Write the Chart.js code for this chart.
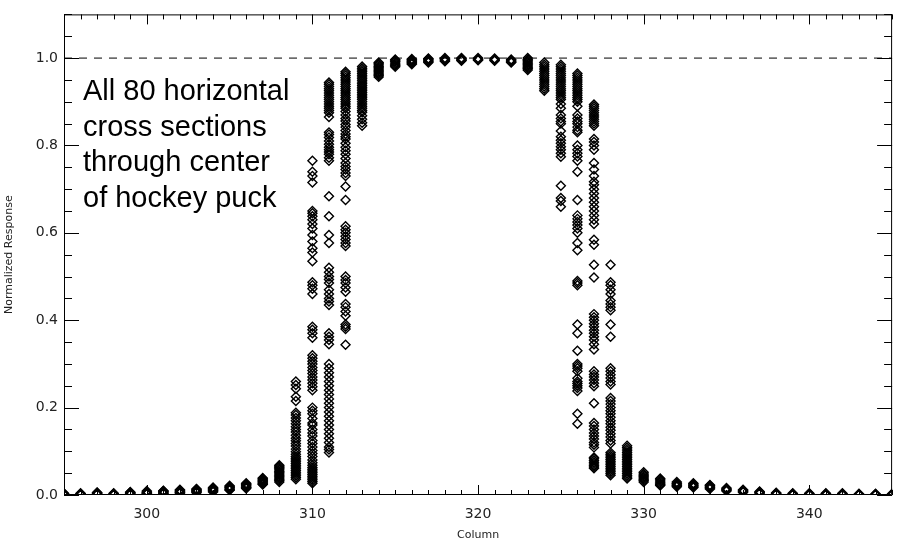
<!DOCTYPE html>
<html>
<head>
<meta charset="utf-8">
<script src="https://cdn.jsdelivr.net/npm/chart.js@4.4.1/dist/chart.umd.min.js"></script>
<style>
  body { margin: 0; background: #fff; }
  #wrap { position: relative; width: 898px; height: 545px; }
  #note {
    position: absolute; left: 83px; top: 73px;
    font-family: "Liberation Sans", Arial, sans-serif; font-size: 29px; line-height: 35.7px;
    color: #000; white-space: nowrap;
  }
</style>
</head>
<body>
<div id="wrap">
  <canvas id="chart" width="898" height="545"></canvas>
  <div id="note">All 80 horizontal<br>cross sections<br>through center<br>of hockey puck</div>
</div>
<script>
// Axis setup
const xRange = [295, 345];
const yRange = [0, 1.1];
const xTicks = [300, 310, 320, 330, 340];
const yTicks = [0, 0.2, 0.4, 0.6, 0.8, 1.0];
const refLine = [1.0];

// Normalized response, one list per column
const tailLeftCols = [295, 296, 297, 298, 299, 300, 301, 302, 303, 304, 305, 306, 307, 308];
const tailLeft = [
  [0.000, 0.001, 0.002, 0.003, 0.004],
  [0.000, 0.001, 0.002, 0.003, 0.004],
  [0.001, 0.002, 0.003, 0.004, 0.005, 0.006],
  [0.000, 0.001, 0.002, 0.003, 0.004],
  [0.001, 0.002, 0.003, 0.004, 0.005, 0.006, 0.007],
  [0.002, 0.003, 0.004, 0.006, 0.007, 0.009],
  [0.003, 0.004, 0.005, 0.007, 0.008, 0.009, 0.010],
  [0.004, 0.005, 0.006, 0.008, 0.009, 0.011, 0.012],
  [0.005, 0.007, 0.008, 0.010, 0.011, 0.013, 0.014],
  [0.007, 0.009, 0.010, 0.012, 0.014, 0.015, 0.017],
  [0.011, 0.012, 0.014, 0.016, 0.018, 0.019, 0.021],
  [0.015, 0.017, 0.018, 0.020, 0.022, 0.024, 0.025, 0.027],
  [0.024, 0.025, 0.027, 0.029, 0.031, 0.033, 0.035, 0.037, 0.039],
  [0.030, 0.033, 0.036, 0.039, 0.042, 0.045, 0.048, 0.051, 0.054, 0.057, 0.060, 0.063, 0.066, 0.068]
];

const edgeLeftCols = [309, 310, 311, 312, 313];
const edgeLeft = [
  [0.26, 0.252, 0.243, 0.225, 0.215, 0.188, 0.183, 0.176, 0.17, 0.163, 0.156, 0.15, 0.144, 0.137,
   0.13, 0.124, 0.118, 0.112, 0.105, 0.099, 0.093, 0.088, 0.084, 0.08, 0.076, 0.072, 0.068, 0.064,
   0.06, 0.056, 0.052, 0.048, 0.044, 0.04, 0.036],
  [0.765, 0.74, 0.73, 0.715, 0.65, 0.645, 0.638, 0.63, 0.62, 0.61, 0.595, 0.58, 0.565, 0.555,
   0.535, 0.487, 0.48, 0.472, 0.46, 0.385, 0.378, 0.37, 0.36, 0.32, 0.313, 0.306, 0.30, 0.292,
   0.285, 0.278, 0.27, 0.263, 0.256, 0.248, 0.24, 0.2, 0.193, 0.186, 0.175, 0.165, 0.16, 0.15,
   0.142, 0.135, 0.125, 0.118, 0.11, 0.102, 0.095, 0.088, 0.08, 0.074, 0.068, 0.063, 0.059,
   0.055, 0.051, 0.047, 0.043, 0.039, 0.035, 0.031, 0.027],
  [0.944, 0.94, 0.935, 0.93, 0.925, 0.92, 0.915, 0.91, 0.905, 0.9, 0.895, 0.89, 0.885, 0.88,
   0.875, 0.865, 0.83, 0.825, 0.818, 0.81, 0.803, 0.796, 0.79, 0.785, 0.78, 0.772, 0.765, 0.684,
   0.638, 0.595, 0.577, 0.52, 0.51, 0.50, 0.493, 0.485, 0.47, 0.46, 0.45, 0.443, 0.435, 0.37,
   0.362, 0.355, 0.345, 0.30, 0.29, 0.28, 0.27, 0.26, 0.25, 0.24, 0.23, 0.22, 0.21, 0.2, 0.19,
   0.18, 0.17, 0.16, 0.15, 0.14, 0.13, 0.12, 0.11, 0.104, 0.097],
  [0.969, 0.965, 0.96, 0.955, 0.95, 0.945, 0.94, 0.935, 0.93, 0.925, 0.92, 0.915, 0.91, 0.905,
   0.90, 0.895, 0.89, 0.885, 0.878, 0.87, 0.862, 0.856, 0.848, 0.842, 0.834, 0.826, 0.82, 0.815,
   0.805, 0.796, 0.788, 0.78, 0.77, 0.76, 0.752, 0.745, 0.737, 0.73, 0.706, 0.675, 0.615, 0.607,
   0.60, 0.592, 0.585, 0.577, 0.57, 0.50, 0.492, 0.485, 0.475, 0.465, 0.437, 0.43, 0.42, 0.41,
   0.39, 0.385, 0.38, 0.344],
  [0.981, 0.977, 0.973, 0.969, 0.965, 0.961, 0.957, 0.953, 0.949, 0.945, 0.941, 0.937, 0.933,
   0.929, 0.925, 0.921, 0.917, 0.913, 0.909, 0.905, 0.90, 0.895, 0.89, 0.885, 0.88, 0.876, 0.868,
   0.86, 0.852, 0.845]
];

const plateauCols = [314, 315, 316, 317, 318, 319, 320, 321, 322, 323];
const plateau = [
  [0.957, 0.96, 0.963, 0.966, 0.969, 0.972, 0.975, 0.978, 0.981, 0.984, 0.987, 0.99],
  [0.98, 0.983, 0.986, 0.989, 0.992, 0.995, 0.997],
  [0.986, 0.988, 0.99, 0.992, 0.994, 0.996, 0.998],
  [0.99, 0.992, 0.994, 0.996, 0.998, 0.999],
  [0.993, 0.994, 0.996, 0.998, 1.0],
  [0.994, 0.995, 0.997, 0.999, 1.0],
  [0.995, 0.996, 0.998, 1.0],
  [0.994, 0.995, 0.997, 0.999],
  [0.99, 0.991, 0.993, 0.995, 0.997],
  [0.973, 0.976, 0.979, 0.982, 0.985, 0.988, 0.991, 0.994, 0.997, 1.0]
];

const edgeRightCols = [324, 325, 326, 327, 328, 329];
const edgeRight = [
  [0.925, 0.93, 0.935, 0.94, 0.945, 0.95, 0.955, 0.96, 0.965, 0.97, 0.975, 0.98, 0.985, 0.99],
  [0.985, 0.98, 0.975, 0.97, 0.965, 0.96, 0.955, 0.95, 0.945, 0.94, 0.935, 0.93, 0.925, 0.92,
   0.915, 0.91, 0.905, 0.895, 0.885, 0.87, 0.862, 0.855, 0.85, 0.833, 0.82, 0.812, 0.805, 0.797,
   0.79, 0.782, 0.774, 0.708, 0.68, 0.673, 0.66],
  [0.965, 0.96, 0.955, 0.95, 0.945, 0.94, 0.935, 0.93, 0.925, 0.92, 0.915, 0.91, 0.905, 0.90,
   0.89, 0.87, 0.862, 0.855, 0.85, 0.842, 0.835, 0.83, 0.80, 0.79, 0.782, 0.775, 0.765, 0.74,
   0.675, 0.64, 0.632, 0.625, 0.618, 0.61, 0.60, 0.577, 0.56, 0.49, 0.485, 0.48, 0.39, 0.37,
   0.33, 0.30, 0.295, 0.29, 0.283, 0.267, 0.26, 0.255, 0.25, 0.245, 0.238, 0.186, 0.163],
  [0.894, 0.89, 0.885, 0.88, 0.875, 0.87, 0.865, 0.86, 0.855, 0.85, 0.845, 0.815, 0.808, 0.80,
   0.79, 0.76, 0.745, 0.73, 0.717, 0.71, 0.70, 0.69, 0.68, 0.67, 0.66, 0.65, 0.64, 0.63, 0.62,
   0.584, 0.573, 0.527, 0.498, 0.414, 0.407, 0.40, 0.392, 0.385, 0.377, 0.37, 0.362, 0.355,
   0.345, 0.333, 0.283, 0.276, 0.27, 0.263, 0.256, 0.249, 0.21, 0.165, 0.158, 0.15, 0.142,
   0.135, 0.128, 0.12, 0.115, 0.109, 0.086, 0.083, 0.079, 0.075, 0.071, 0.067, 0.064, 0.061],
  [0.527, 0.487, 0.48, 0.47, 0.46, 0.445, 0.437, 0.43, 0.423, 0.39, 0.362, 0.29, 0.283, 0.275,
   0.268, 0.26, 0.253, 0.222, 0.215, 0.208, 0.2, 0.193, 0.186, 0.178, 0.17, 0.163, 0.155, 0.148,
   0.14, 0.133, 0.125, 0.118, 0.097, 0.093, 0.089, 0.085, 0.081, 0.077, 0.073, 0.069, 0.065,
   0.061, 0.057, 0.053, 0.049, 0.045],
  [0.113, 0.109, 0.105, 0.101, 0.097, 0.093, 0.089, 0.085, 0.081, 0.077, 0.073, 0.069, 0.065,
   0.061, 0.057, 0.053, 0.049, 0.045, 0.041, 0.038]
];

const tailRightCols = [330, 331, 332, 333, 334, 335, 336, 337, 338, 339, 340, 341, 342, 343, 344, 345];
const tailRight = [
  [0.030, 0.033, 0.036, 0.039, 0.042, 0.045, 0.048, 0.052],
  [0.022, 0.024, 0.026, 0.029, 0.032, 0.035, 0.038],
  [0.019, 0.021, 0.023, 0.025, 0.027, 0.030],
  [0.017, 0.019, 0.021, 0.023, 0.025, 0.027],
  [0.014, 0.016, 0.018, 0.020, 0.022, 0.023],
  [0.009, 0.011, 0.013, 0.014, 0.016],
  [0.006, 0.008, 0.009, 0.011, 0.012],
  [0.003, 0.005, 0.006, 0.007, 0.008],
  [0.001, 0.002, 0.003, 0.004, 0.005],
  [0.000, 0.001, 0.002, 0.003, 0.004],
  [0.000, 0.001, 0.002, 0.003, 0.004],
  [0.000, 0.001, 0.002, 0.003, 0.004],
  [0.000, 0.001, 0.002, 0.003, 0.004],
  [0.000, 0.001, 0.002, 0.003],
  [0.000, 0.001, 0.002, 0.003],
  [0.000, 0.001, 0.002, 0.003]
];

// Flatten into scatter points
const points = [];
[[tailLeftCols, tailLeft], [edgeLeftCols, edgeLeft], [plateauCols, plateau],
 [edgeRightCols, edgeRight], [tailRightCols, tailRight]].forEach(([cols, vals]) => {
  cols.forEach((c, i) => {
    vals[i].forEach(v => points.push({x: c, y: v}));
  });
});

// Box with inward ticks on all four sides (IDL style)
const frame = {
  id: 'frame',
  afterDraw(chart) {
    const {ctx, chartArea: a, scales: {x, y}} = chart;
    ctx.save();
    ctx.strokeStyle = '#000';
    ctx.lineWidth = 1;
    ctx.beginPath();
    ctx.rect(a.left + 0.5, a.top + 0.5, a.right - a.left - 1, a.bottom - a.top - 1);
    for (let v = xRange[0]; v <= xRange[1]; v++) {
      const px = Math.round(x.getPixelForValue(v)) + 0.5;
      const len = xTicks.includes(v) ? 10 : 5;
      ctx.moveTo(px, a.bottom); ctx.lineTo(px, a.bottom - len);
      ctx.moveTo(px, a.top); ctx.lineTo(px, a.top + len);
    }
    for (let i = 0; i <= 22; i++) {
      const py = Math.round(y.getPixelForValue(i * 0.05)) + 0.5;
      const len = i % 4 === 0 ? 15 : 8;
      ctx.moveTo(a.left, py); ctx.lineTo(a.left + len, py);
      ctx.moveTo(a.right, py); ctx.lineTo(a.right - len, py);
    }
    ctx.stroke();
    ctx.restore();
  }
};

const tickFont = {family: 'DejaVu Sans', size: 14};
const titleFont = {family: 'DejaVu Sans', size: 11};

new Chart(document.getElementById('chart'), {
  type: 'scatter',
  data: {
    datasets: [
      {
        data: points,
        pointStyle: 'rectRot',
        radius: 4.5,
        borderWidth: 1.4,
        borderColor: '#000',
        backgroundColor: 'rgba(0,0,0,0)',
        clip: 0
      },
      {
        type: 'line',
        data: xRange.map(v => ({x: v, y: refLine[0]})),
        borderColor: '#000',
        borderWidth: 1,
        borderDash: [8, 7],
        pointRadius: 0
      }
    ]
  },
  options: {
    responsive: false,
    animation: false,
    layout: {padding: {top: 9, right: 4, left: 0, bottom: 0}},
    plugins: {legend: {display: false}, tooltip: {enabled: false}},
    scales: {
      x: {
        type: 'linear',
        min: xRange[0], max: xRange[1],
        grid: {display: false, drawTicks: false},
        border: {display: false},
        afterBuildTicks: s => { s.ticks = xTicks.map(v => ({value: v})); },
        afterFit: s => { s.height = 50; },
        ticks: {color: '#222', font: tickFont, padding: 11, maxRotation: 0},
        title: {display: true, text: 'Column', color: '#222', font: titleFont, padding: {top: 0, bottom: 3}}
      },
      y: {
        min: yRange[0], max: yRange[1],
        grid: {display: false, drawTicks: false},
        border: {display: false},
        afterBuildTicks: s => { s.ticks = yTicks.map(v => ({value: v})); },
        afterFit: s => { s.width = 64; },
        ticks: {color: '#222', font: tickFont, padding: 6, callback: v => v.toFixed(1)},
        title: {display: true, text: 'Normalized Response', color: '#222', font: titleFont, padding: {top: 3, bottom: 0}}
      }
    }
  },
  plugins: [frame]
});
</script>
</body>
</html>
